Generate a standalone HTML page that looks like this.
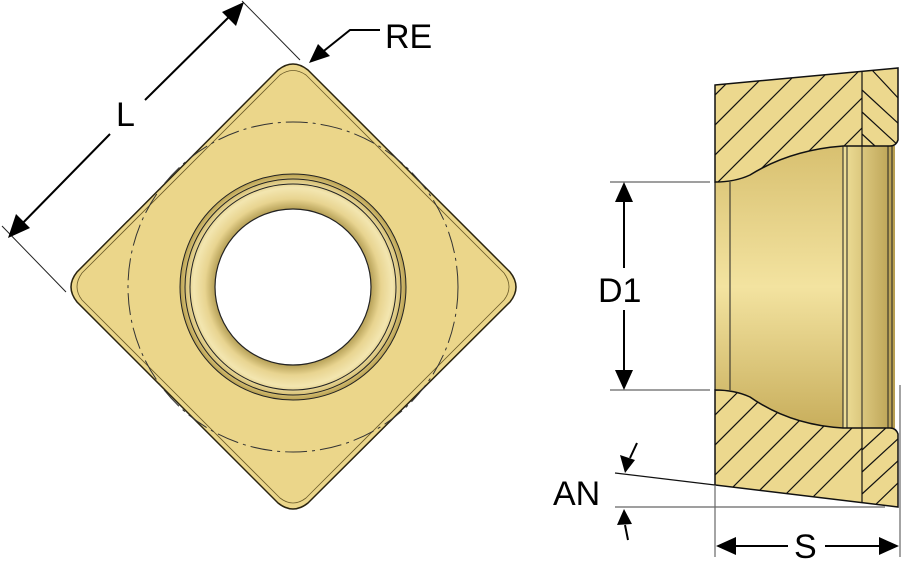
<!DOCTYPE html>
<html><head><meta charset="utf-8"><style>html,body{margin:0;padding:0;background:#fff}svg{display:block}</style></head>
<body>
<svg width="902" height="569" viewBox="0 0 902 569" xmlns="http://www.w3.org/2000/svg" font-family="Liberation Sans, sans-serif">
<defs>
<radialGradient id="ring" cx="0.5" cy="0.5" r="0.5">
<stop offset="0.68" stop-color="#b09a50"/><stop offset="0.78" stop-color="#e8d490"/><stop offset="0.88" stop-color="#f3e6b0"/><stop offset="0.95" stop-color="#d8c278"/><stop offset="1" stop-color="#b8a050"/>
</radialGradient>
<linearGradient id="bore" x1="0" y1="0" x2="0" y2="1">
<stop offset="0" stop-color="#d8c070"/><stop offset="0.5" stop-color="#f3e3a0"/><stop offset="1" stop-color="#c8ae5c"/>
</linearGradient>
<linearGradient id="bore2" x1="0" y1="0" x2="1" y2="0">
<stop offset="0" stop-color="#efdf98"/><stop offset="1" stop-color="#b89e50"/>
</linearGradient>
<clipPath id="secTop"><path d="M715,85 L898,68 L898,140 Q896,146 890,146 L843,146 Q790,150 750,175 Q735,182 715,182 Z"/></clipPath>
<clipPath id="secBot"><path d="M715,390 Q735,390 750,397 Q790,425 843,428 L890,428 Q896,428 898,434 L898,507 L715,485 Z"/></clipPath>
</defs>

<path d="M278,70 Q293,58 308,70 L510,272 Q522,287 510,302 L308,503 Q293,515 278,503 L77,302 Q65,287 77,272 Z" fill="#ebd68a" stroke="#2a2410" stroke-width="1.5"/>
<path d="M280,75 Q293,66 306,75 L504,273 Q514,287 504,300 L306,498 Q293,508 280,498 L82,300 Q72,287 82,273 Z" fill="none" stroke="#6a5a28" stroke-width="0.8"/>
<circle cx="293" cy="287" r="165" fill="none" stroke="#333" stroke-width="1" stroke-dasharray="22,5,3,5"/>
<circle cx="293" cy="287" r="113" fill="url(#ring)" stroke="#222" stroke-width="1"/>
<circle cx="293" cy="287" r="108" fill="none" stroke="#222" stroke-width="1"/>
<circle cx="293" cy="287" r="103" fill="none" stroke="#222" stroke-width="1"/>
<circle cx="293" cy="287" r="78" fill="#fff" stroke="#222" stroke-width="1.2"/>

<line x1="66" y1="292" x2="2" y2="226" stroke="#222" stroke-width="1"/>
<line x1="300" y1="60" x2="242" y2="1" stroke="#222" stroke-width="1"/>
<line x1="14" y1="232" x2="110" y2="134" stroke="#000" stroke-width="2"/>
<line x1="145" y1="100" x2="238" y2="8" stroke="#000" stroke-width="2"/>
<polygon points="8,238 16,214 30,228" fill="#000"/>
<polygon points="244,2 236,26 222,12" fill="#000"/>
<text x="116" y="126" font-size="34">L</text>

<polyline points="315,58 350,30 380,30" fill="none" stroke="#000" stroke-width="2"/>
<polygon points="309,63 318,44 330,56" fill="#000"/>
<text x="385" y="48" font-size="34">RE</text>

<path d="M715,182 Q735,182 750,175 Q790,150 843,146 L890,146 L890,428 L843,428 Q790,425 750,397 Q735,390 715,390 Z" fill="url(#bore)"/>
<rect x="843" y="146" width="52" height="282" fill="url(#bore2)"/>
<g stroke="#222" stroke-width="1">
<line x1="730" y1="182" x2="730" y2="390"/>
<line x1="843" y1="146" x2="843" y2="428"/>
<line x1="847" y1="146" x2="847" y2="428"/>
<line x1="862" y1="146" x2="862" y2="428"/>
<line x1="888" y1="146" x2="888" y2="428"/>
<line x1="892" y1="146" x2="892" y2="428"/>
</g>
<g clip-path="url(#secTop)">
<rect x="700" y="60" width="210" height="130" fill="#ecd88e"/>
<g stroke="#111" stroke-width="1.2">
<line x1="660" y1="210" x2="800" y2="70"/><line x1="690" y1="210" x2="830" y2="70"/><line x1="720" y1="210" x2="860" y2="70"/><line x1="750" y1="210" x2="890" y2="70"/><line x1="780" y1="210" x2="920" y2="70"/><line x1="630" y1="210" x2="770" y2="70"/><line x1="600" y1="210" x2="740" y2="70"/>
</g>
<rect x="862" y="60" width="40" height="90" fill="#ecd88e"/>
<g stroke="#111" stroke-width="1.2">
<line x1="862" y1="90" x2="900" y2="125"/><line x1="862" y1="112" x2="900" y2="147"/><line x1="872" y1="70" x2="900" y2="100"/><line x1="862" y1="134" x2="875" y2="146"/>
<line x1="862" y1="0" x2="862" y2="200"/>
</g>
</g>
<g clip-path="url(#secBot)">
<rect x="700" y="385" width="210" height="130" fill="#ecd88e"/>
<g stroke="#111" stroke-width="1.2">
<line x1="660" y1="530" x2="800" y2="390"/><line x1="690" y1="530" x2="830" y2="390"/><line x1="720" y1="530" x2="860" y2="390"/><line x1="750" y1="530" x2="890" y2="390"/><line x1="780" y1="530" x2="920" y2="390"/><line x1="630" y1="530" x2="770" y2="390"/><line x1="600" y1="530" x2="740" y2="390"/><line x1="570" y1="530" x2="710" y2="390"/>
</g>
<rect x="862" y="380" width="40" height="140" fill="#ecd88e"/>
<g stroke="#111" stroke-width="1.2">
<line x1="862" y1="450" x2="900" y2="415"/><line x1="862" y1="472" x2="900" y2="437"/><line x1="862" y1="494" x2="900" y2="459"/><line x1="870" y1="510" x2="900" y2="481"/>
<line x1="862" y1="380" x2="862" y2="520"/>
</g>
</g>
<path d="M715,85 L898,68 L898,140 Q896,146 890,146 L843,146 Q790,150 750,175 Q735,182 715,182 Z" fill="none" stroke="#111" stroke-width="1.5"/>
<path d="M715,390 Q735,390 750,397 Q790,425 843,428 L890,428 Q896,428 898,434 L898,507 L715,485 Z" fill="none" stroke="#111" stroke-width="1.5"/>
<line x1="715" y1="182" x2="715" y2="390" stroke="#111" stroke-width="1.2"/>

<line x1="610" y1="182" x2="710" y2="182" stroke="#666" stroke-width="1.2"/>
<line x1="610" y1="390" x2="710" y2="390" stroke="#666" stroke-width="1.2"/>
<line x1="624" y1="195" x2="624" y2="268" stroke="#000" stroke-width="2"/>
<line x1="624" y1="310" x2="624" y2="378" stroke="#000" stroke-width="2"/>
<polygon points="624,182 615,202 633,202" fill="#000"/>
<polygon points="624,390 615,370 633,370" fill="#000"/>
<text x="598" y="302" font-size="34">D1</text>

<line x1="615" y1="473" x2="715" y2="485" stroke="#111" stroke-width="1.2"/>
<line x1="615" y1="507" x2="885" y2="507" stroke="#666" stroke-width="1.2"/>
<line x1="637" y1="443" x2="630" y2="458" stroke="#000" stroke-width="2"/>
<polygon points="625,473 620,455 635,460" fill="#000"/>
<line x1="628" y1="540" x2="625" y2="525" stroke="#000" stroke-width="2"/>
<polygon points="624,509 617,525 632,524" fill="#000"/>
<text x="553" y="505" font-size="34">AN</text>

<line x1="715" y1="485" x2="715" y2="557" stroke="#666" stroke-width="1.2"/>
<line x1="900" y1="385" x2="900" y2="557" stroke="#666" stroke-width="1.2"/>
<line x1="730" y1="546" x2="788" y2="546" stroke="#000" stroke-width="2"/>
<line x1="825" y1="546" x2="885" y2="546" stroke="#000" stroke-width="2"/>
<polygon points="716,546 736,537 736,555" fill="#000"/>
<polygon points="899,546 879,537 879,555" fill="#000"/>
<text x="794" y="558" font-size="34">S</text>
</svg>
</body></html>
